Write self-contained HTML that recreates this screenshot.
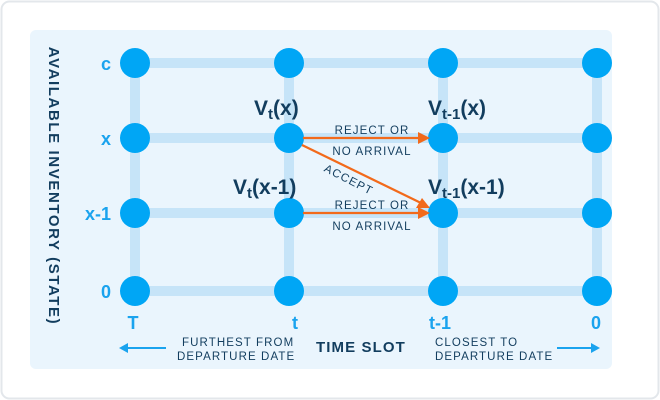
<!DOCTYPE html>
<html><head><style>
body{margin:0;background:#fff;}
svg{display:block;font-family:"Liberation Sans",sans-serif;}
</style></head><body>
<svg width="660" height="400" viewBox="0 0 660 400">
<rect x="1.5" y="1.5" width="657" height="397" rx="8" fill="#fff" stroke="#e3e7eb" stroke-width="2"/>
<rect x="30" y="30" width="582" height="339" rx="6" fill="#eaf5fd"/>
<g stroke="#c6e4f8" stroke-width="10">
<line x1="135" y1="63" x2="597" y2="63"/>
<line x1="135" y1="138" x2="597" y2="138"/>
<line x1="135" y1="213" x2="597" y2="213"/>
<line x1="135" y1="291" x2="597" y2="291"/>
<line x1="135" y1="63" x2="135" y2="291"/>
<line x1="289" y1="63" x2="289" y2="291"/>
<line x1="443" y1="63" x2="443" y2="291"/>
<line x1="597" y1="63" x2="597" y2="291"/>
</g>
<g fill="#00a6f5">
<circle cx="135" cy="63" r="15"/><circle cx="289" cy="63" r="15"/><circle cx="443" cy="63" r="15"/><circle cx="597" cy="63" r="15"/>
<circle cx="135" cy="138" r="15"/><circle cx="289" cy="138" r="15"/><circle cx="443" cy="138" r="15"/><circle cx="597" cy="138" r="15"/>
<circle cx="135" cy="213" r="15"/><circle cx="289" cy="213" r="15"/><circle cx="443" cy="213" r="15"/><circle cx="597" cy="213" r="15"/>
<circle cx="135" cy="291" r="15"/><circle cx="289" cy="291" r="15"/><circle cx="443" cy="291" r="15"/><circle cx="597" cy="291" r="15"/>
</g>
<g fill="#1aa3ee" font-weight="bold" font-size="18" text-anchor="middle">
<text x="106" y="70">c</text><text x="106" y="145">x</text><text x="98" y="220">x-1</text><text x="106" y="298">0</text>
<text x="133" y="329">T</text><text x="295" y="329">t</text><text x="440" y="329">t-1</text><text x="596" y="329">0</text>
</g>
<text transform="translate(49,186) rotate(90)" text-anchor="middle" font-size="15" font-weight="bold" fill="#123d5e" letter-spacing="1.6">AVAILABLE INVENTORY (STATE)</text>
<g fill="#123d5e" font-weight="bold" font-size="21">
<text x="254" y="115">V<tspan font-size="15" dy="4">t</tspan><tspan dy="-4">(x)</tspan></text>
<text x="428" y="115">V<tspan font-size="15" dy="4">t-1</tspan><tspan dy="-4">(x)</tspan></text>
<text x="233" y="194">V<tspan font-size="15" dy="4">t</tspan><tspan dy="-4">(x-1)</tspan></text>
<text x="428" y="194">V<tspan font-size="15" dy="4">t-1</tspan><tspan dy="-4">(x-1)</tspan></text>
</g>
<g stroke="#f26a1b" stroke-width="2.2" fill="none">
<line x1="303" y1="138" x2="420" y2="138"/>
<line x1="303" y1="213" x2="420" y2="213"/>
<line x1="302" y1="145" x2="421" y2="203"/>
</g>
<g fill="#f26a1b">
<polygon points="430,138 418,132 418,144"/>
<polygon points="430,213 418,207 418,219"/>
<polygon points="430,208 416,208 422,198"/>
</g>
<g fill="#123d5e" font-size="11.5" letter-spacing="1.1" text-anchor="middle">
<text x="372" y="134">REJECT OR</text><text x="372" y="155">NO ARRIVAL</text>
<text x="372" y="209">REJECT OR</text><text x="372" y="230">NO ARRIVAL</text>
<text transform="translate(347,183) rotate(27)">ACCEPT</text>
</g>
<g fill="#123d5e" font-size="11.5" letter-spacing="1.1">
<text x="182" y="346">FURTHEST FROM</text><text x="177" y="360">DEPARTURE DATE</text>
<text x="435" y="346">CLOSEST TO</text><text x="435" y="360">DEPARTURE DATE</text>
<text x="316" y="352" font-size="15" font-weight="bold">TIME SLOT</text>
</g>
<g stroke="#1aa3ee" stroke-width="2">
<line x1="126" y1="348" x2="166" y2="348"/><line x1="557" y1="348" x2="592" y2="348"/>
</g>
<g fill="#1aa3ee">
<polygon points="119,348 128,343 128,353"/><polygon points="600,348 591,343 591,353"/>
</g>
</svg>
</body></html>
